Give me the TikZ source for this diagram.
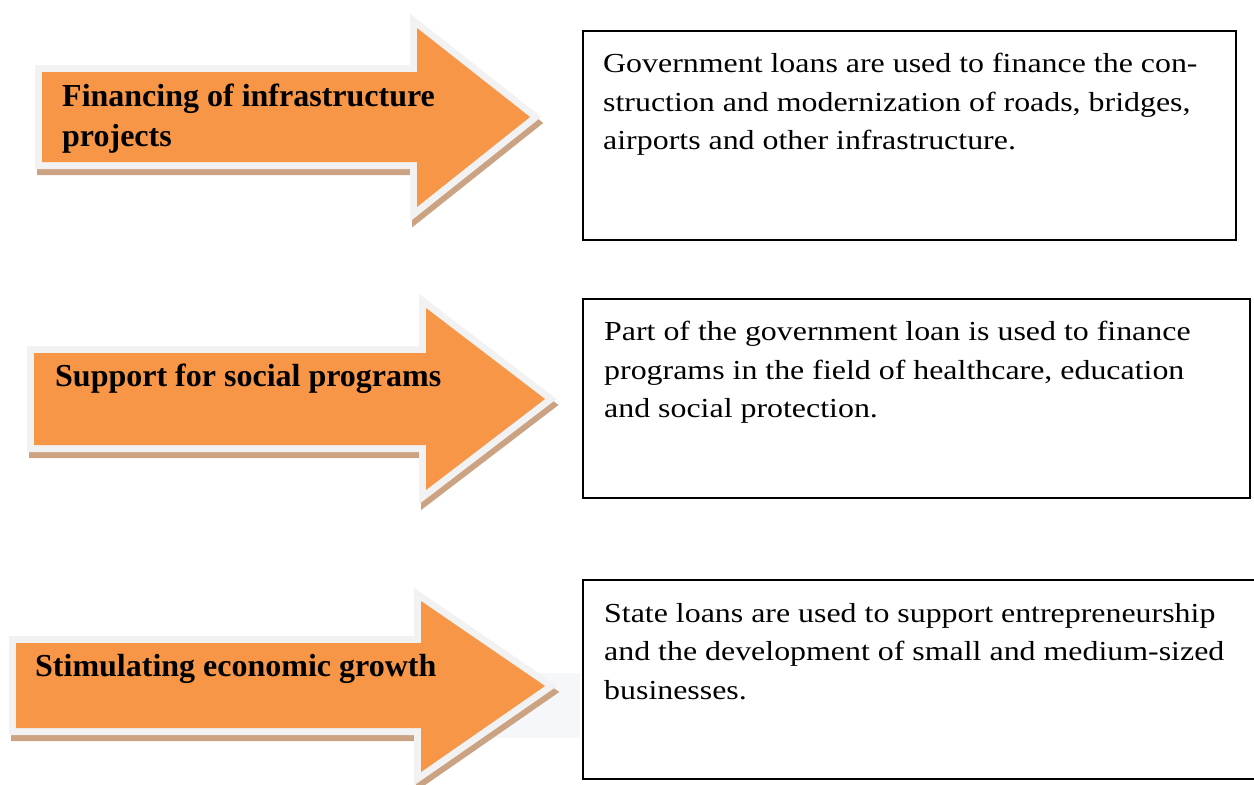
\documentclass[tikz,border=0pt]{standalone}
\usepackage{fontspec}
\setmainfont{Liberation Serif}
\newfontfamily\boxfont[FakeStretch=1.16]{Liberation Serif}
\definecolor{arroworange}{HTML}{F79646}
\definecolor{arrowrim}{HTML}{F2F2F2}
\definecolor{arrowshadow}{HTML}{CBA383}
\definecolor{faintgrey}{HTML}{F5F7FA}
\tikzset{
  arrowshadowstyle/.style={draw=arrowshadow, fill=arrowshadow, line width=14pt, line join=miter},
  arrowrimstyle/.style={draw=arrowrim, fill=arrowrim, line width=14pt, line join=miter},
  arrowfill/.style={fill=arroworange},
  arrowtext/.style={inner sep=0pt, align=left, font=\bfseries\fontsize{32}{40}\selectfont},
  infobox/.style={draw=black, line width=1.5pt, fill=white},
  infotext/.style={inner sep=0pt, align=left, anchor=north west, font=\boxfont\fontsize{27.5}{38.5}\selectfont},
}
\begin{document}
\begin{tikzpicture}[x=1pt, y=-1pt]
\useasboundingbox (0,0) rectangle (1254,785);
% faint background strip behind third arrow head
\fill[faintgrey] (420,673) rectangle (580,738);
% ---------- arrow 1 ----------
\draw[arrowshadowstyle, shift={(2,6)}] (42,72) -- (417,72) -- (417,28) -- (530,117) -- (417,207) -- (417,162) -- (42,162) -- cycle;
\draw[arrowrimstyle] (42,72) -- (417,72) -- (417,28) -- (530,117) -- (417,207) -- (417,162) -- (42,162) -- cycle;
\fill[arrowfill] (42,72) -- (417,72) -- (417,28) -- (530,117) -- (417,207) -- (417,162) -- (42,162) -- cycle;
\node[arrowtext, anchor=north west] (a1) at (62,84) {Financing of infrastructure\\projects};
% ---------- arrow 2 ----------
\draw[arrowshadowstyle, shift={(2,6)}] (34,353) -- (426,353) -- (426,308) -- (545,399) -- (426,490) -- (426,445) -- (34,445) -- cycle;
\draw[arrowrimstyle] (34,353) -- (426,353) -- (426,308) -- (545,399) -- (426,490) -- (426,445) -- (34,445) -- cycle;
\fill[arrowfill] (34,353) -- (426,353) -- (426,308) -- (545,399) -- (426,490) -- (426,445) -- (34,445) -- cycle;
\node[arrowtext, anchor=base west] (a2) at (55,386) {Support for social programs};
% ---------- arrow 3 ----------
\draw[arrowshadowstyle, shift={(2,6)}] (16,643) -- (421,643) -- (421,601) -- (545,686) -- (421,772) -- (421,728) -- (16,728) -- cycle;
\draw[arrowrimstyle] (16,643) -- (421,643) -- (421,601) -- (545,686) -- (421,772) -- (421,728) -- (16,728) -- cycle;
\fill[arrowfill] (16,643) -- (421,643) -- (421,601) -- (545,686) -- (421,772) -- (421,728) -- (16,728) -- cycle;
\node[arrowtext, anchor=base west] (a3) at (35,676) {Stimulating economic growth};
% ---------- boxes ----------
\draw[infobox] (583,31) rectangle (1236,240);
\node[infotext] (t1) at (603,53) {Government loans are used to finance the con-\\struction and modernization of roads, bridges,\\airports and other infrastructure.};
\draw[infobox] (583,299) rectangle (1250,498);
\node[infotext] (t2) at (604,321) {Part of the government loan is used to finance\\programs in the field of healthcare, education\\and social protection.};
\draw[infobox] (583,580) rectangle (1260,779);
\node[infotext] (t3) at (604,603) {State loans are used to support entrepreneurship\\and the development of small and medium-sized\\businesses.};
\end{tikzpicture}
\end{document}
